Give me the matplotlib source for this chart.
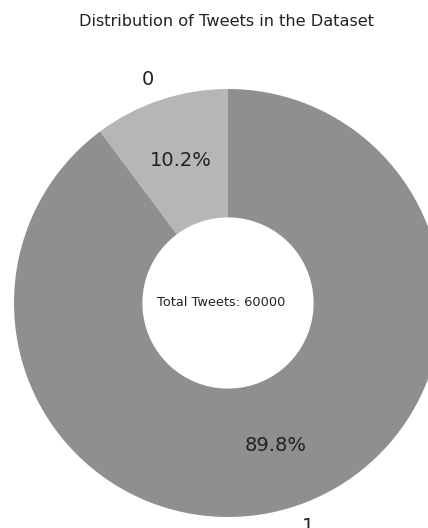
import matplotlib
matplotlib.use("Agg")
import matplotlib.pyplot as plt

labels = ["0", "1"]
shares = [10.2, 89.8]
colors = ["#b6b6b6", "#8f8f8f"]
total_tweets = 60000

W, H = 428, 528
fig = plt.figure(figsize=(W / 100, H / 100), dpi=100)

# pie circle: centre (228, 303) px, radius 214 px (cropped on the right)
cx, cy, r = 228, 303, 214
ax = fig.add_axes([(cx - r) / W, (H - cy - r) / H, 2 * r / W, 2 * r / H])
ax.pie(
    shares,
    labels=labels,
    colors=colors,
    autopct="%1.1f%%",
    startangle=90,
    pctdistance=0.7,
    labeldistance=1.1,
    wedgeprops={"width": 0.6, "linewidth": 0},
    textprops={"fontsize": 14, "color": "#222222"},
)
ax.set_xlim(-1, 1)
ax.set_ylim(-1, 1)
ax.set_aspect("auto")
ax.axis("off")
ax.text(-0.03, 0, f"Total Tweets: {total_tweets}", ha="center", va="center",
        fontsize=9.3, color="#222222")

fig.text(0.53, 1 - 22 / H, "Distribution of Tweets in the Dataset",
         ha="center", va="center", fontsize=11.6, color="#222222")

fig.savefig("out.png", dpi=100)
